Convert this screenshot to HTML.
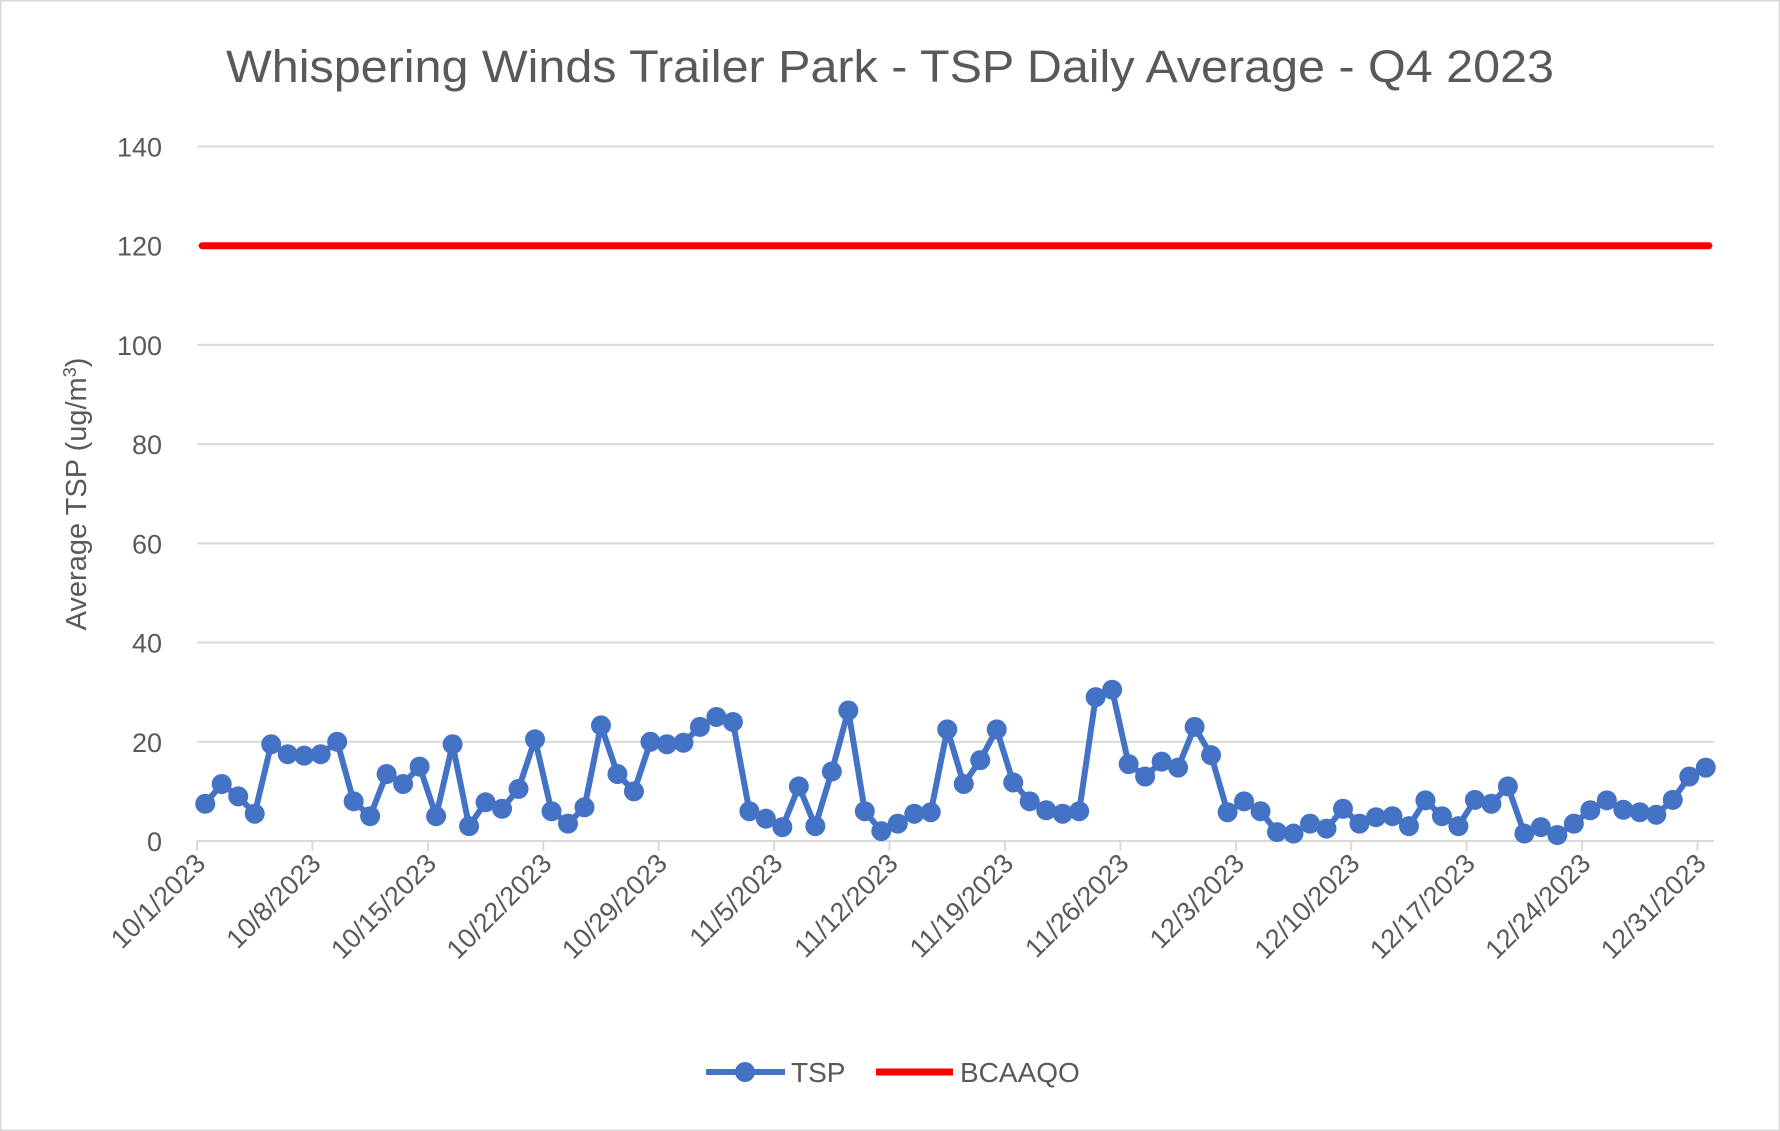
<!DOCTYPE html>
<html><head><meta charset="utf-8"><style>
html,body{margin:0;padding:0;background:#fff;}
svg{display:block;font-family:"Liberation Sans",sans-serif;}
</style></head><body>
<svg id="chart" width="1780" height="1131" viewBox="0 0 1780 1131" xmlns="http://www.w3.org/2000/svg">
<rect x="0.5" y="0.5" width="1779" height="1130" fill="#fff" stroke="#d9d9d9" stroke-width="2"/>
<text x="890" y="82" text-anchor="middle" font-size="45" fill="#595959" textLength="1328" lengthAdjust="spacingAndGlyphs">Whispering Winds Trailer Park - TSP Daily Average - Q4 2023</text>
<g id="grid"></g>
<g id="yticks"></g>
<g id="xaxis"></g>
<text transform="translate(86,494) rotate(-90)" text-anchor="middle" font-size="29" fill="#595959">Average TSP (ug/m<tspan baseline-shift="super" font-size="18">3</tspan>)</text>
<g id="series"></g>
<g>
  <g>
    <line x1="706" y1="1072" x2="785" y2="1072" stroke="#4472c4" stroke-width="6"/>
    <circle cx="745" cy="1072" r="10" fill="#4472c4"/>
    <text x="791" y="1082" font-size="28" fill="#595959">TSP</text>
  </g>
  <g>
    <line x1="876" y1="1072" x2="953" y2="1072" stroke="#ff0000" stroke-width="7"/>
    <text x="960" y="1082" font-size="28" fill="#595959">BCAAQO</text>
  </g>
</g>
</svg>
<script>
const tspValues = [7.5,11.5,9,5.5,19.5,17.5,17.2,17.5,20,8,5,13.5,11.5,15,5,19.5,3,7.8,6.5,10.5,20.5,6,3.5,6.8,23.3,13.5,10,20,19.5,19.8,23,25,24,6,4.5,2.8,11,3,14,26.3,6,2,3.5,5.5,5.8,22.5,11.5,16.3,22.5,11.8,8,6.2,5.5,6,29,30.5,15.5,13,16,14.8,23,17.3,5.8,8,6,1.8,1.5,3.5,2.5,6.5,3.5,4.8,5,3,8.2,5,3,8.3,7.5,11,1.5,2.8,1.2,3.5,6.2,8.2,6.3,5.8,5.3,8.3,13,14.8];
const bcaaqoValue = 120;
const yTicks = [0,20,40,60,80,100,120,140];
const xTickLabels = ["10/1/2023","10/8/2023","10/15/2023","10/22/2023","10/29/2023","11/5/2023","11/12/2023","11/19/2023","11/26/2023","12/3/2023","12/10/2023","12/17/2023","12/24/2023","12/31/2023"];
const xTickIndex = [0,7,14,21,28,35,42,49,56,63,70,77,84,91];

const NS="http://www.w3.org/2000/svg";
const L=197, R=1714, Y0=841, Y140=146.5;
const n=tspValues.length;
const bw=(R-L)/n;
function xCat(i){return L+bw*(i+0.5);}
function xBound(i){return L+bw*i;}
function y(v){return Y0-(v/140)*(Y0-Y140);}
function mk(tag,attrs,parent){const e=document.createElementNS(NS,tag);for(const k in attrs)e.setAttribute(k,attrs[k]);parent.appendChild(e);return e;}

const grid=document.getElementById('grid'), yt=document.getElementById('yticks'), xa=document.getElementById('xaxis'), se=document.getElementById('series');
yTicks.forEach(t=>{
  const ln=mk('line',{x1:L,x2:R,y1:y(t),y2:y(t),stroke:t===0?'#d9d9d9':'#d9d9d9','stroke-width':2},grid);
  
  
  const tx=mk('text',{x:162,y:y(t)+10,'text-anchor':'end','font-size':27,fill:'#595959'},yt);
  tx.textContent=t;
  
  
});
xTickIndex.forEach((ci,k)=>{
  const xb=xBound(ci);
  const tk=mk('line',{x1:xb,x2:xb,y1:Y0,y2:Y0+10,stroke:'#d9d9d9','stroke-width':2},xa);
  
  
  const tx=mk('text',{transform:`translate(${xb+10},${Y0+24}) rotate(-45)`,'text-anchor':'end','font-size':27,fill:'#595959'},xa);
  tx.textContent=xTickLabels[k];
  
  
});
const rl=mk('line',{x1:xCat(0)-3,x2:xCat(n-1)+3,y1:y(bcaaqoValue),y2:y(bcaaqoValue),stroke:'#ff0000','stroke-width':7,'stroke-linecap':'round'},se);


const pts=tspValues.map((v,i)=>xCat(i).toFixed(1)+','+y(v).toFixed(1)).join(' ');
const pl=mk('polyline',{points:pts,fill:'none',stroke:'#4472c4','stroke-width':6,'stroke-linejoin':'round'},se);


tspValues.forEach((v,i)=>{
  const c=mk('circle',{cx:xCat(i),cy:y(v),r:10,fill:'#4472c4'},se);
  
  
});
</script>
</body></html>
